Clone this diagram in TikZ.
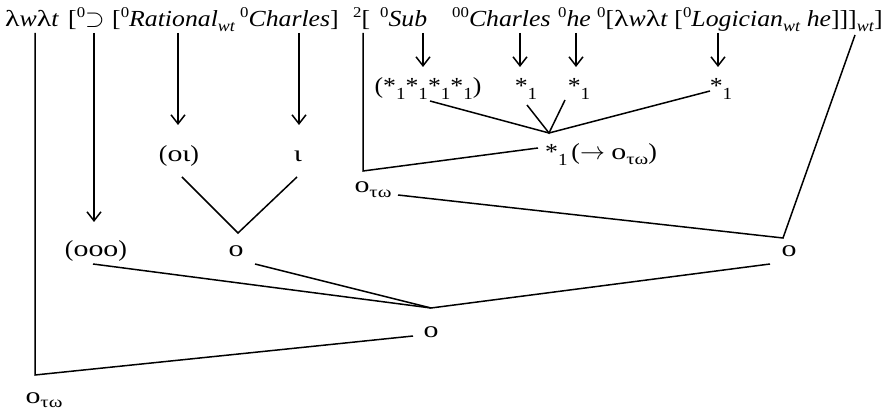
\documentclass[tikz,border=0pt]{standalone}
\usepackage{fontspec}
\setmainfont[FakeStretch=1.12]{Liberation Serif}
\newfontfamily\grk[FakeStretch=1.3]{Liberation Serif}
\usetikzlibrary{arrows.meta,calc}
\newcommand{\fs}{\fontsize{23}{27}\selectfont}
\newcommand{\zr}[1]{\raisebox{0.4em}{\fontsize{15}{15}\selectfont #1}}
\newcommand{\sbs}[1]{\raisebox{-0.2em}{\fontsize{16}{16}\selectfont #1}}
\newcommand{\stI}{*\raisebox{-0.25em}{\fontsize{17}{17}\selectfont 1}}
\newcommand{\gk}[1]{{\grk #1}}
\begin{document}
\begin{tikzpicture}[x=1pt,y=-1pt,
  lbl/.style={inner sep=0pt,font=\fs},
  top/.style={lbl,anchor=base west},
  bs/.style={lbl,anchor=base},
  ln/.style={line width=1.5pt},
  arr/.style={ln,-{Straight Barb[length=9pt,width=14pt]}}]
\useasboundingbox (0,0) rectangle (894,411);
\coordinate (tl) at (0,33);
% top line
\node[top] (p1) at (5,27) {\gk{λ}\textit{w}\gk{λ}\textit{t}};
\node[top] (p2) at (68,27) {[\zr{0}$\supset$};
\node[top] (p3) at (112,27) {[\zr{0}\textit{Rational}\sbs{\textit{wt}}};
\node[top] (p4) at (240,27) {\zr{0}\textit{Charles}]};
\node[top] (p5) at (353,27) {\zr{2}[};
\node[top] (p6) at (380,27) {\zr{0}\textit{Sub}};
\node[top] (p7) at (452,27) {\zr{00}\textit{Charles}};
\node[top] (p8) at (558,27) {\zr{0}\textit{he}};
\node[top] (p9) at (597,27) {\zr{0}[\gk{λ}\textit{w}\gk{λ}\textit{t} [\zr{0}\textit{Logician}\sbs{\textit{wt}} \textit{he}]]]\sbs{\textit{wt}}]};
% lower labels
\node[bs] (ooo) at (96,257) {(\gk{οοο})};
\node[bs] (o1) at (236,257) {\gk{ο}};
\node[bs] (oi) at (179,162) {(\gk{οι})};
\node[bs] (iota) at (298,162) {\gk{ι}};
\node[bs] (o2) at (431,338) {\gk{ο}};
\node[bs] (o3) at (789,257) {\gk{ο}};
\node[bs] (otwB) at (44,403) {\gk{ο}\sbs{\gk{τω}}};
\node[bs] (otwM) at (373,193) {\gk{ο}\sbs{\gk{τω}}};
\node[bs] (s4) at (428,94) {(\stI\stI\stI\stI)};
\node[bs] (s1a) at (526,94) {\stI};
\node[bs] (s1b) at (579,94) {\stI};
\node[bs] (s1c) at (721,94) {\stI};
\node[top] (arrw) at (545,160) {\stI\,($\rightarrow$ \gk{ο}\sbs{\gk{τω}})};
% junctions
\coordinate (j1) at ($(o1.base)+(2,-24)$);
\coordinate (j2) at ($(o2.base)+(0,-30)$);
\coordinate (j3) at ($(arrw.base west)+(4,-27)$);
\coordinate (j4) at ($(o3.base)+(-6,-19)$);
\coordinate (c1) at ($(otwB.base)+(-9,-28)$);
\coordinate (c2) at ($(otwM.base)+(-10,-22)$);
\coordinate (tr) at (855,35);
% arrows
\draw[arr] ($(ooo.base |- tl)+(-2,0)$) -- ($(ooo.base)+(-2,-35)$);
\draw[arr] ($(oi.base |- tl)+(-1,0)$) -- ($(oi.base)+(-1,-37)$);
\draw[arr] ($(iota.base |- tl)+(1,0)$) -- ($(iota.base)+(1,-37)$);
\draw[arr] ($(s4.base |- tl)+(-5,0)$) -- ($(s4.base)+(-5,-27)$);
\draw[arr] ($(s1a.base |- tl)+(-6,0)$) -- ($(s1a.base)+(-6,-27)$);
\draw[arr] ($(s1b.base |- tl)+(-3,0)$) -- ($(s1b.base)+(-3,-27)$);
\draw[arr] ($(s1c.base |- tl)+(-3,0)$) -- ($(s1c.base)+(-3,-27)$);
% lines
\draw[ln] ($(oi.base)+(3,15)$) -- (j1) -- ($(iota.base)+(-1,15)$);
\draw[ln] ($(ooo.base)+(-3,7)$) -- (j2) -- ($(o3.base)+(-19,7)$);
\draw[ln] ($(o1.base)+(19,7)$) -- (j2);
\draw[ln] (c1 |- tl) -- (c1) -- ($(o2.base)+(-18,-2)$);
\draw[ln] (c2 |- tl) -- (c2) -- ($(arrw.base west)+(-7,-12)$);
\draw[ln] ($(s4.base)+(2,7)$) -- (j3) -- ($(s1c.base)+(-11,-3)$);
\draw[ln] ($(s1a.base)+(1,11)$) -- (j3) -- ($(s1b.base)+(-14,6)$);
\draw[ln] ($(otwM.base)+(25,2)$) -- (j4) -- (tr);
\end{tikzpicture}
\end{document}
